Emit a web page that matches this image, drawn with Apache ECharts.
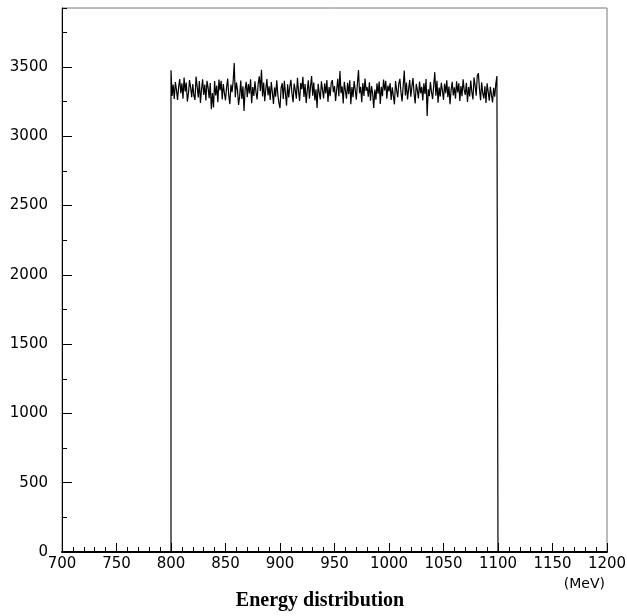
<!DOCTYPE html>
<html>
<head>
<meta charset="utf-8">
<script src="https://cdn.jsdelivr.net/npm/echarts@6/dist/echarts.min.js"></script>
<style>html,body{margin:0;padding:0;background:#fff}#c{width:627px;height:616px}</style>
</head>
<body>
<div id="c"></div>
<script>
// Histogram: 1 MeV bins from 800 to 1100 MeV
const binStart = 800;
const binWidth = 1;
const counts = [
  3475, 3290, 3372, 3268, 3391, 3336, 3262, 3355, 3412, 3310,
  3381, 3270, 3424, 3322, 3387, 3250, 3308, 3405, 3352, 3281,
  3376, 3292, 3262, 3430, 3359, 3280, 3398, 3240, 3338, 3411,
  3297, 3372, 3258, 3400, 3351, 3274, 3383, 3195, 3312, 3208,
  3398, 3294, 3366, 3245, 3409, 3331, 3400, 3266, 3377, 3310,
  3259, 3353, 3416, 3291, 3232, 3372, 3317, 3394, 3528, 3282,
  3388, 3334, 3226, 3289, 3401, 3268, 3360, 3182, 3336, 3392,
  3281, 3377, 3308, 3410, 3238, 3355, 3290, 3396, 3318, 3266,
  3379, 3432, 3327, 3480, 3286, 3388, 3253, 3344, 3412, 3295,
  3360, 3262, 3391, 3316, 3232, 3352, 3285, 3404, 3302, 3241,
  3203, 3348, 3382, 3268, 3399, 3309, 3221, 3375, 3280, 3356,
  3407, 3306, 3246, 3380, 3333, 3271, 3422, 3325, 3255, 3384,
  3340, 3428, 3283, 3376, 3239, 3331, 3404, 3270, 3358, 3434,
  3293, 3387, 3258, 3339, 3203, 3378, 3312, 3265, 3396, 3334,
  3273, 3381, 3308, 3406, 3248, 3354, 3289, 3382, 3405, 3317,
  3362, 3254, 3337, 3415, 3288, 3470, 3311, 3359, 3236, 3393,
  3330, 3271, 3386, 3304, 3403, 3230, 3355, 3282, 3398, 3335,
  3263, 3378, 3478, 3310, 3357, 3245, 3384, 3291, 3416, 3327,
  3353, 3285, 3389, 3256, 3361, 3309, 3203, 3336, 3264, 3381,
  3306, 3394, 3232, 3357, 3288, 3409, 3331, 3400, 3270, 3365,
  3323, 3384, 3261, 3352, 3290, 3230, 3398, 3333, 3281, 3379,
  3414, 3316, 3251, 3362, 3473, 3294, 3388, 3265, 3340, 3406,
  3285, 3359, 3420, 3308, 3237, 3377, 3332, 3272, 3395, 3311,
  3356, 3258, 3382, 3305, 3413, 3146, 3338, 3289, 3391, 3317,
  3268, 3363, 3462, 3292, 3399, 3242, 3351, 3286, 3385, 3330,
  3261, 3379, 3310, 3404, 3282, 3358, 3230, 3337, 3392, 3294,
  3353, 3271, 3396, 3315, 3381, 3255, 3362, 3289, 3410, 3334,
  3298, 3386, 3247, 3355, 3287, 3402, 3319, 3265, 3424, 3366,
  3292, 3437, 3455, 3340, 3259, 3388, 3311, 3273, 3361, 3240,
  3382, 3320, 3257, 3357, 3296, 3244, 3349, 3285, 3378, 3434
];
const xTickLabels = [700, 750, 800, 850, 900, 950, 1000, 1050, 1100, 1150, 1200];
const yTickLabels = [0, 500, 1000, 1500, 2000, 2500, 3000, 3500];
const titleText = 'Energy distribution';
const unitText = '(MeV)';

// build step-line points from bin edges
const pts = [[binStart, 0]];
counts.forEach((c, i) => pts.push([binStart + i * binWidth, c]));
const binEnd = binStart + counts.length * binWidth;
pts.push([binEnd, counts[counts.length - 1]]);
pts.push([binEnd, 0]);

const font = 'DejaVu Sans';
const chart = echarts.init(document.getElementById('c'), null, {renderer: 'canvas'});
chart.setOption({
  animation: false,
  backgroundColor: '#fff',
  graphic: [{
    type: 'text', right: 22, top: 577,
    style: {text: unitText, font: '14px "DejaVu Sans"', fill: '#000'}
  }, {
    type: 'text', x: 320, y: 601,
    style: {text: titleText, font: 'bold 20px "Liberation Serif"', fill: '#000', align: 'center', verticalAlign: 'middle'}
  }],
  grid: {left: 62, right: 20, top: 8, bottom: 64, show: true, borderColor: '#777', borderWidth: 1,
    containLabel: false, outerBoundsMode: 'none'},
  xAxis: [{
    type: 'value', min: xTickLabels[0], max: xTickLabels[xTickLabels.length - 1], interval: 50,
    axisLine: {lineStyle: {color: '#000', width: 2}},
    axisTick: {inside: true, length: 9, lineStyle: {color: '#000', width: 1}},
    minorTick: {show: true, splitNumber: 5, length: 5, lineStyle: {color: '#000', width: 1}},
    splitLine: {show: false},
    axisLabel: {margin: 5, fontFamily: font, fontSize: 15, color: '#000', hideOverlap: false,
      formatter: v => xTickLabels.includes(v) ? String(v) : ''}
  }],
  yAxis: [{
    type: 'value', min: 0, max: 3925, interval: 500,
    axisLine: {lineStyle: {color: '#000', width: 1}},
    axisTick: {inside: true, length: 10, lineStyle: {color: '#000'}},
    splitLine: {show: false},
    axisLabel: {margin: 14, fontFamily: font, fontSize: 15, color: '#000', showMaxLabel: false,
      formatter: v => yTickLabels.includes(v) ? String(v) : ''}
  }, {
    type: 'value', min: 0, max: 3925, interval: 250, position: 'left',
    axisLine: {show: false},
    axisTick: {inside: true, length: 5, lineStyle: {color: '#000'}},
    splitLine: {show: false},
    axisLabel: {show: false}
  }],
  series: [{
    type: 'line', step: 'end', data: pts, showSymbol: false, symbol: 'none',
    lineStyle: {color: '#000', width: 1.2}, silent: true, clip: true
  }]
});
</script>
</body>
</html>
